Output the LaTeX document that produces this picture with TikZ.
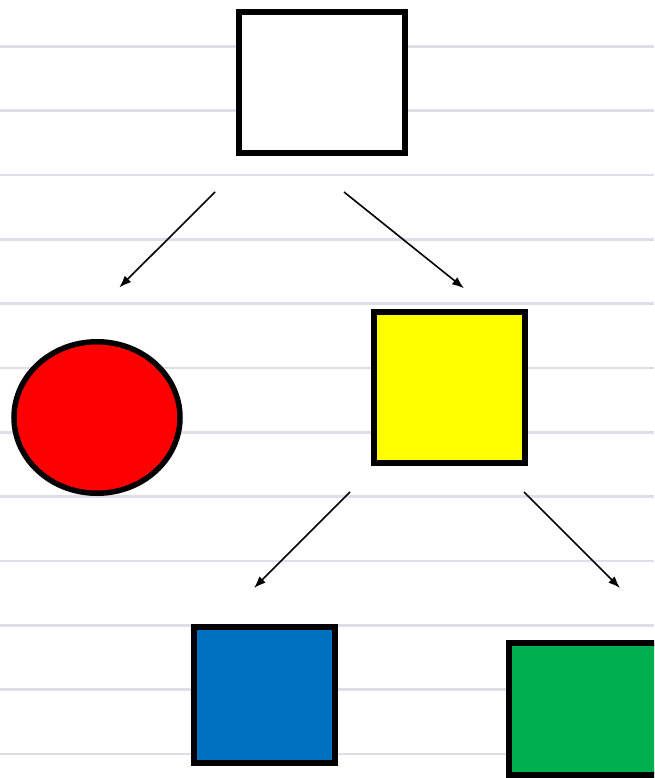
\documentclass[tikz,border=0pt]{standalone}
\usetikzlibrary{arrows.meta,shapes.geometric}
\definecolor{ruleline}{RGB}{222,222,232}
\definecolor{shred}{RGB}{255,0,0}
\definecolor{shyellow}{RGB}{255,255,0}
\definecolor{shblue}{RGB}{0,112,192}
\definecolor{shgreen}{RGB}{0,176,80}
\tikzset{
  boxshape/.style={draw=black, line width=6pt, inner sep=0pt, rectangle},
  ellshape/.style={draw=black, line width=5.5pt, inner sep=0pt, ellipse},
  arrowline/.style={line width=1.6pt, -{Latex[length=12pt,width=9pt]}},
  ruled/.style={draw=ruleline, line width=2.6pt}
}
\begin{document}
\begin{tikzpicture}[x=1pt,y=-1pt]
\useasboundingbox (0,0) rectangle (654,778);
\clip (0,0) rectangle (654,778);
\fill[white] (0,0) rectangle (654,778);
\foreach \k in {0,...,11} {
  \draw[ruled] (0,{46.5+64.3*\k}) -- (654,{46.5+64.3*\k});
}
\node[boxshape, fill=white, minimum width=166pt, minimum height=140.7pt] (top) at (322,82.3) {};
\node[boxshape, fill=shyellow, minimum width=151.6pt, minimum height=151pt] (yellow) at (449.5,387.5) {};
\node[ellshape, fill=shred, minimum width=166pt, minimum height=151.5pt] (red) at (97,417.5) {};
\node[boxshape, fill=shblue, minimum width=140.5pt, minimum height=135.5pt] (blue) at (264.5,695) {};
\node[boxshape, fill=shgreen, minimum width=150pt, minimum height=132pt] (green) at (584,708.5) {};
\coordinate (a1s) at (215,192);
\coordinate (a1e) at (119.3,287.5);
\coordinate (a2s) at (344,192);
\coordinate (a2e) at (464,288.3);
\coordinate (a3s) at (350,492);
\coordinate (a3e) at (254,588);
\coordinate (a4s) at (524,492);
\coordinate (a4e) at (620,588);
\draw[arrowline] (a1s) -- (a1e);
\draw[arrowline] (a2s) -- (a2e);
\draw[arrowline] (a3s) -- (a3e);
\draw[arrowline] (a4s) -- (a4e);
\end{tikzpicture}
\end{document}
